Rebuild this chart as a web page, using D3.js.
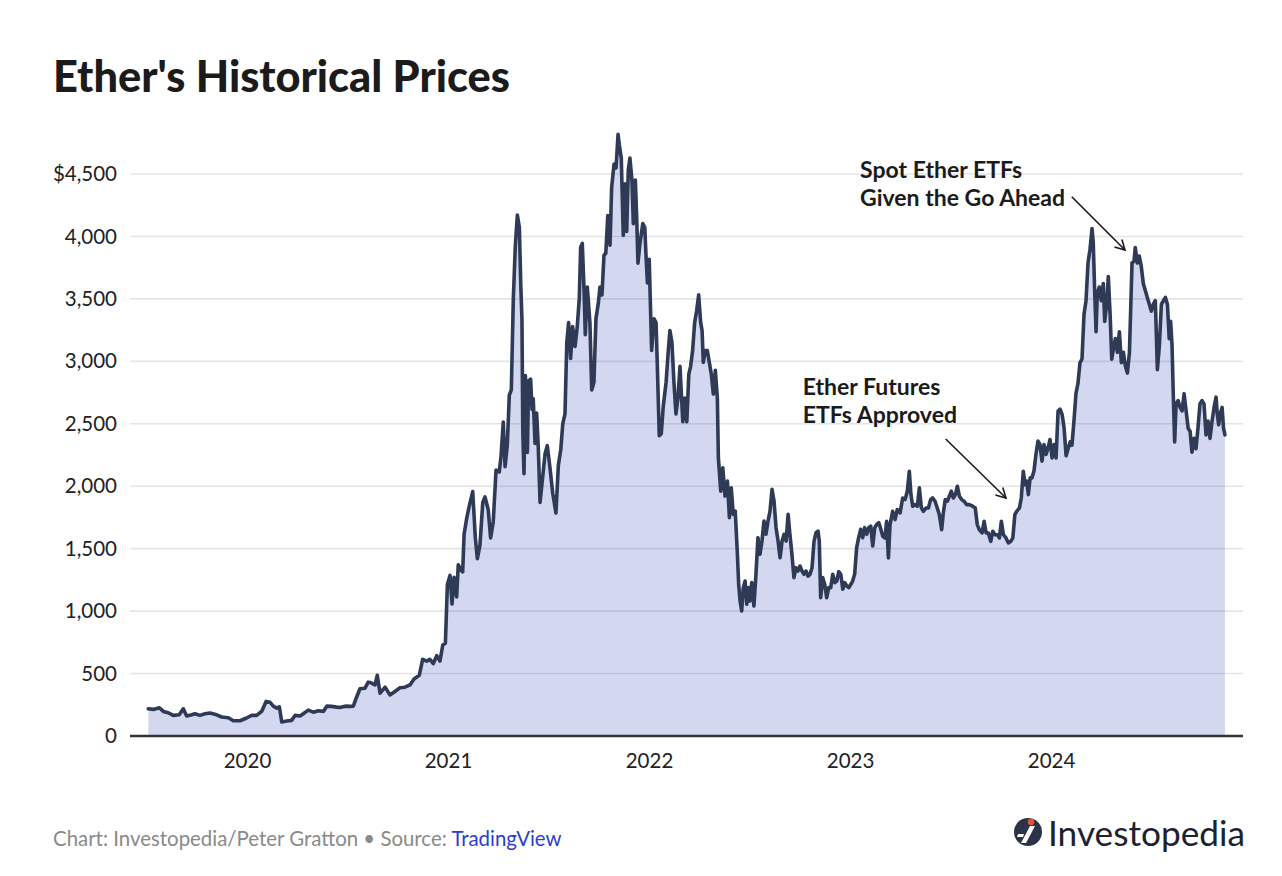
<!DOCTYPE html>
<html>
<head>
<meta charset="utf-8">
<script src="https://cdn.jsdelivr.net/npm/d3@7"></script>
<style>
  html, body { margin: 0; padding: 0; background: #fff; }
  svg { display: block; }
</style>
</head>
<body>
<svg id="chart" width="1282" height="876"></svg>
<script>
// ---- DATA (time as fractional year, price in USD) ----
const yearFrac = [
  2019.509,2019.534,2019.564,2019.584,2019.608,2019.633,2019.663,2019.683,2019.700,2019.725,
  2019.741,2019.766,2019.791,2019.816,2019.849,2019.874,2019.907,2019.932,2019.965,2019.998,
  2020.023,2020.048,2020.073,2020.095,2020.114,2020.131,2020.148,2020.161,2020.173,2020.198,
  2020.222,2020.239,2020.264,2020.280,2020.305,2020.330,2020.355,2020.380,2020.397,2020.421,
  2020.446,2020.463,2020.488,2020.512,2020.529,2020.542,2020.562,2020.587,2020.603,
  2020.612,2020.637,2020.648,2020.662,2020.687,2020.711,2020.736,2020.761,2020.786,2020.811,
  2020.831,2020.857,2020.874,2020.894,2020.910,2020.927,2020.944,2020.960,2020.974,2020.987,
  2020.997,2021.010,2021.020,2021.030,2021.043,2021.051,2021.063,2021.073,2021.080,2021.093,
  2021.106,2021.123,2021.136,2021.146,2021.159,2021.173,2021.184,2021.200,2021.212,2021.225,
  2021.239,2021.255,2021.264,2021.275,2021.284,2021.295,2021.305,2021.315,2021.325,2021.335,
  2021.345,2021.355,2021.362,2021.368,2021.372,2021.378,2021.385,2021.395,2021.401,2021.411,
  2021.418,2021.424,2021.433,2021.441,2021.449,2021.458,
  2021.483,2021.494,2021.507,2021.521,2021.537,2021.549,2021.561,2021.571,2021.582,2021.591,
  2021.600,2021.610,2021.620,2021.632,2021.643,2021.653,2021.660,2021.668,2021.677,2021.683,
  2021.693,2021.706,2021.715,2021.726,2021.736,2021.748,2021.756,2021.766,2021.776,2021.785,
  2021.795,2021.806,2021.814,2021.826,2021.836,2021.846,2021.852,2021.862,2021.872,2021.881,
  2021.889,2021.897,2021.905,2021.915,2021.922,2021.932,2021.939,2021.945,2021.955,2021.969,
  2021.979,2021.985,2021.992,2022.001,2022.013,2022.025,2022.035,2022.041,2022.051,2022.061,
  2022.071,2022.085,2022.096,2022.104,2022.114,2022.124,2022.134,2022.144,2022.154,2022.168,
  2022.178,2022.188,2022.198,2022.207,2022.217,2022.227,2022.237,2022.247,2022.257,2022.264,
  2022.270,2022.280,2022.290,2022.300,2022.310,2022.320,2022.330,2022.340,
  2022.345,2022.357,2022.367,2022.378,2022.390,2022.400,2022.409,2022.419,2022.429,2022.439,
  2022.446,2022.453,2022.461,2022.469,2022.478,2022.486,2022.494,2022.502,2022.511,2022.522,
  2022.532,2022.542,2022.552,2022.562,2022.572,2022.582,2022.592,2022.602,2022.612,2022.622,
  2022.632,2022.642,2022.652,2022.662,2022.672,2022.682,2022.692,2022.701,2022.711,2022.721,
  2022.731,2022.741,2022.751,2022.761,2022.771,2022.781,2022.791,2022.801,2022.811,2022.821,
  2022.831,2022.841,2022.847,2022.854,2022.864,2022.874,2022.884,2022.894,2022.904,2022.914,
  2022.924,2022.934,2022.944,2022.954,2022.964,2022.974,2022.984,2022.994,2023.004,2023.013,
  2023.023,2023.033,2023.043,2023.053,2023.063,2023.073,2023.083,2023.093,2023.103,2023.113,
  2023.123,2023.133,2023.143,
  2023.149,2023.163,2023.174,2023.182,2023.191,2023.199,2023.212,2023.224,2023.235,2023.249,
  2023.262,2023.274,2023.285,2023.295,2023.303,2023.312,2023.323,2023.335,2023.345,2023.355,
  2023.365,2023.378,2023.390,2023.401,2023.411,2023.423,2023.434,2023.444,2023.456,2023.464,
  2023.474,2023.484,2023.494,2023.504,2023.514,2023.524,2023.534,2023.544,2023.556,2023.567,
  2023.580,2023.593,2023.610,2023.623,2023.633,2023.643,2023.657,2023.667,2023.677,2023.688,
  2023.700,2023.710,2023.721,2023.733,2023.743,2023.753,2023.763,2023.776,2023.788,2023.800,
  2023.810,2023.820,2023.829,2023.843,2023.852,2023.862,2023.871,2023.879,2023.887,2023.896,
  2023.905,2023.915,2023.925,2023.935,2023.945,2023.955,2023.965,2023.975,2023.985,2023.995,
  2024.005,2024.015,2024.025,2024.035,
  2024.045,2024.055,2024.065,2024.075,2024.085,2024.095,2024.104,2024.114,2024.124,2024.134,
  2024.144,2024.154,2024.164,2024.174,2024.184,2024.194,2024.204,2024.210,2024.217,2024.224,
  2024.230,2024.240,2024.250,2024.260,2024.267,2024.277,2024.285,2024.294,2024.302,2024.310,
  2024.320,2024.330,2024.340,2024.350,2024.360,2024.370,2024.380,2024.390,2024.397,2024.403,
  2024.413,2024.419,2024.429,2024.439,2024.449,2024.459,2024.469,2024.479,2024.489,2024.499,
  2024.509,2024.519,2024.529,2024.539,2024.549,2024.559,2024.569,2024.579,2024.588,2024.595,
  2024.602,2024.608,2024.615,2024.622,2024.632,2024.642,2024.652,2024.662,2024.672,2024.682,
  2024.692,2024.701,2024.711,2024.721,2024.731,2024.741,2024.751,2024.761,2024.771,2024.781,
  2024.791,2024.801,2024.811,2024.821,2024.827,2024.834,2024.841,2024.851,2024.858,2024.865
];
const price = [
  218,213,226,197,186,165,170,218,160,170,
  178,165,178,184,170,152,146,122,122,144,
  165,165,197,277,271,239,223,234,112,120,
  125,165,160,178,207,191,202,197,239,237,
  231,229,239,237,239,298,378,383,431,
  429,409,486,343,391,329,357,386,391,409,
  457,486,614,600,614,580,643,600,729,743,
  1214,1286,1057,1271,1114,1371,1329,1314,1614,1743,
  1843,1957,1586,1420,1529,1871,1914,1814,1586,1714,
  2129,2114,2243,2514,2157,2329,2729,2771,3500,3929,
  4171,4071,3614,3329,2443,2100,2886,2271,2843,2857,
  2614,2700,2343,2586,2314,1871,
  2262,2325,2151,1944,1786,2167,2294,2500,2579,3151,
  3310,3024,3278,3119,3278,3500,3913,3944,3563,3214,
  3595,3310,2770,2833,3341,3468,3595,3532,3849,3865,
  4167,3929,4389,4579,4548,4817,4738,4627,4008,4421,
  4040,4532,4627,4452,4103,4452,4135,3786,3944,4103,
  4071,3849,3627,3817,3087,3341,3310,2992,2405,2421,
  2643,2833,3087,3246,3151,2833,2579,2706,2960,2516,
  2706,2516,2897,2960,3087,3310,3405,3532,3310,3246,
  2992,3087,3087,2992,2897,2738,2929,2706,
  2228,1961,2148,1921,2041,1748,1988,1775,1801,1481,
  1215,1081,1001,1188,1241,1055,1188,1081,1228,1041,
  1295,1588,1455,1561,1721,1615,1721,1801,1975,1881,
  1668,1561,1428,1561,1615,1561,1775,1615,1455,1268,
  1348,1321,1361,1321,1295,1321,1281,1295,1348,1561,
  1628,1641,1561,1108,1268,1215,1108,1188,1188,1295,
  1228,1241,1316,1295,1175,1228,1201,1188,1215,1241,
  1295,1508,1588,1655,1588,1668,1615,1668,1681,1521,
  1668,1695,1708,
  1679,1599,1586,1719,1425,1693,1799,1733,1813,1786,
  1906,1893,1960,2120,1933,1840,1853,1840,1987,1826,
  1799,1826,1826,1893,1906,1880,1826,1773,1652,1786,
  1893,1880,1920,1960,1906,1933,2000,1920,1893,1880,
  1853,1853,1840,1826,1693,1652,1626,1719,1626,1626,
  1559,1639,1612,1612,1586,1719,1612,1586,1546,1559,
  1586,1773,1799,1826,1906,2120,2013,2040,1933,2067,
  2067,2120,2254,2361,2334,2201,2334,2254,2307,2374,
  2227,2334,2227,2602,
  2617,2576,2466,2245,2300,2355,2328,2521,2741,2824,
  2989,3017,3375,3485,3788,3898,4063,3953,3567,3237,
  3540,3595,3485,3623,3320,3457,3678,3375,3017,3099,
  3182,3072,3237,2989,3072,2961,2906,3072,3457,3788,
  3802,3912,3788,3843,3760,3623,3567,3512,3457,3402,
  3457,3485,2934,3127,3457,3485,3512,3457,3182,3320,
  3127,2741,2355,2659,2686,2631,2603,2741,2603,2466,
  2438,2273,2383,2300,2466,2659,2686,2659,2411,2521,
  2383,2521,2631,2713,2576,2493,2576,2631,2466,2411
];
const yTicks = [0, 500, 1000, 1500, 2000, 2500, 3000, 3500, 4000, 4500];
const xTicks = [2020, 2021, 2022, 2023, 2024];
const titleText = "Ether's Historical Prices";
const annotations = [
  { lines: ["Spot Ether ETFs", "Given the Go Ahead"], tx: 2023.050, tv: [4468, 4244],
    from: [2024.103, 4318], to: [2024.368, 3891] },
  { lines: ["Ether Futures", "ETFs Approved"], tx: 2022.765, tv: [2730, 2506],
    from: [2023.476, 2378], to: [2023.776, 1906] }
];

// ---- LAYOUT ----
const FONT = "Lato, 'Noto Sans', sans-serif";
const svg = d3.select("#chart");
const plot = { left: 130, right: 1243, top: 174, bottom: 736 };

const x = d3.scaleLinear()
  .domain([2019.418, 2024.955])
  .range([plot.left, plot.right]);
const y = d3.scaleLinear()
  .domain([0, 4500])
  .range([plot.bottom, plot.top]);

const data = yearFrac.map((t, i) => ({ t, v: price[i] }));

function fitText(sel, targetWidth) {
  const node = sel.node();
  const fs = parseFloat(sel.attr("font-size"));
  const w = node.getComputedTextLength();
  if (w > 0) sel.attr("font-size", (fs * targetWidth / w).toFixed(2));
  return sel;
}

// Title
fitText(svg.append("text")
  .attr("x", 53).attr("y", 92)
  .attr("font-family", FONT).attr("font-weight", 900)
  .attr("font-size", 40).attr("fill", "#1b1b1b")
  .text(titleText), 457);

// Area
svg.append("path")
  .datum(data)
  .attr("fill", "#d3d8f0")
  .attr("d", d3.area().x(d => x(d.t)).y0(y(0)).y1(d => y(d.v)));

// Grid lines (on top of the fill, faint)
svg.append("g").selectAll("line")
  .data(yTicks.filter(d => d > 0))
  .join("line")
  .attr("x1", plot.left).attr("x2", plot.right)
  .attr("y1", d => y(d)).attr("y2", d => y(d))
  .attr("stroke", "#000").attr("stroke-opacity", 0.1).attr("stroke-width", 1.6);

// Line
svg.append("path")
  .datum(data)
  .attr("fill", "none")
  .attr("stroke", "#2e3a56")
  .attr("stroke-width", 3.6)
  .attr("stroke-linejoin", "round")
  .attr("stroke-linecap", "round")
  .attr("d", d3.line().x(d => x(d.t)).y(d => y(d.v)));

// Y axis labels
const yAxis = d3.axisLeft(y).tickValues(yTicks)
  .tickSize(0).tickPadding(13)
  .tickFormat(d => (d === 4500 ? "$" : "") + d3.format(",")(d));
const gy = svg.append("g").attr("transform", `translate(${plot.left},0)`).call(yAxis);
gy.select(".domain").remove();
gy.selectAll("text").attr("font-family", FONT).attr("font-size", 20.5).attr("fill", "#222");

// X axis
const xAxis = d3.axisBottom(x).tickValues(xTicks).tickSize(0).tickPadding(17)
  .tickFormat(d3.format("d"));
const gx = svg.append("g").attr("transform", `translate(0,${plot.bottom})`).call(xAxis);
gx.select(".domain").remove();
gx.selectAll("text").attr("font-family", FONT).attr("font-size", 20.5).attr("fill", "#222");
svg.append("line")
  .attr("x1", plot.left).attr("x2", plot.right)
  .attr("y1", y(0)).attr("y2", y(0))
  .attr("stroke", "#333").attr("stroke-width", 2.6);

// Annotations
annotations.forEach(a => {
  const g = svg.append("g");
  a.lines.forEach((ln, i) => {
    g.append("text").attr("x", x(a.tx)).attr("y", y(a.tv[i]))
      .attr("font-family", FONT).attr("font-weight", 700)
      .attr("font-size", 23).attr("fill", "#1b1b1b").text(ln);
  });
  const x1 = x(a.from[0]), y1 = y(a.from[1]), x2 = x(a.to[0]), y2 = y(a.to[1]);
  g.append("line").attr("x1", x1).attr("y1", y1).attr("x2", x2).attr("y2", y2)
    .attr("stroke", "#1b1b1b").attr("stroke-width", 1.6);
  const ang = Math.atan2(y2 - y1, x2 - x1), L = 11, spread = 0.5;
  const p1 = [x2 - L * Math.cos(ang - spread), y2 - L * Math.sin(ang - spread)];
  const p2 = [x2 - L * Math.cos(ang + spread), y2 - L * Math.sin(ang + spread)];
  g.append("path").attr("d", `M${p1[0]},${p1[1]}L${x2},${y2}L${p2[0]},${p2[1]}`)
    .attr("fill", "none").attr("stroke", "#1b1b1b").attr("stroke-width", 1.6);
});

// Footer
const foot = svg.append("text").attr("x", 53).attr("y", 846)
  .attr("font-family", FONT).attr("font-size", 19).attr("fill", "#8a8a8a");
foot.append("tspan").text("Chart: Investopedia/Peter Gratton • Source: ");
foot.append("tspan").attr("fill", "#2a3ed0").text("TradingView");
fitText(foot, 509);

// Logo
const logo = svg.append("g");
logo.append("circle").attr("cx", 1028).attr("cy", 832).attr("r", 14).attr("fill", "#2b3447");
logo.append("path")
  .attr("d", "M1021,843 L1030,826 L1035,826 L1026,843 Z M1018,834 L1024,834 L1023,837 L1017,837 Z")
  .attr("fill", "#fff");
logo.append("circle").attr("cx", 1031).attr("cy", 822).attr("r", 3.2).attr("fill", "#e8542a");
fitText(logo.append("text").attr("x", 1048).attr("y", 846)
  .attr("font-family", FONT).attr("font-size", 34).attr("fill", "#1d2231")
  .text("Investopedia"), 197);
</script>
</body>
</html>
